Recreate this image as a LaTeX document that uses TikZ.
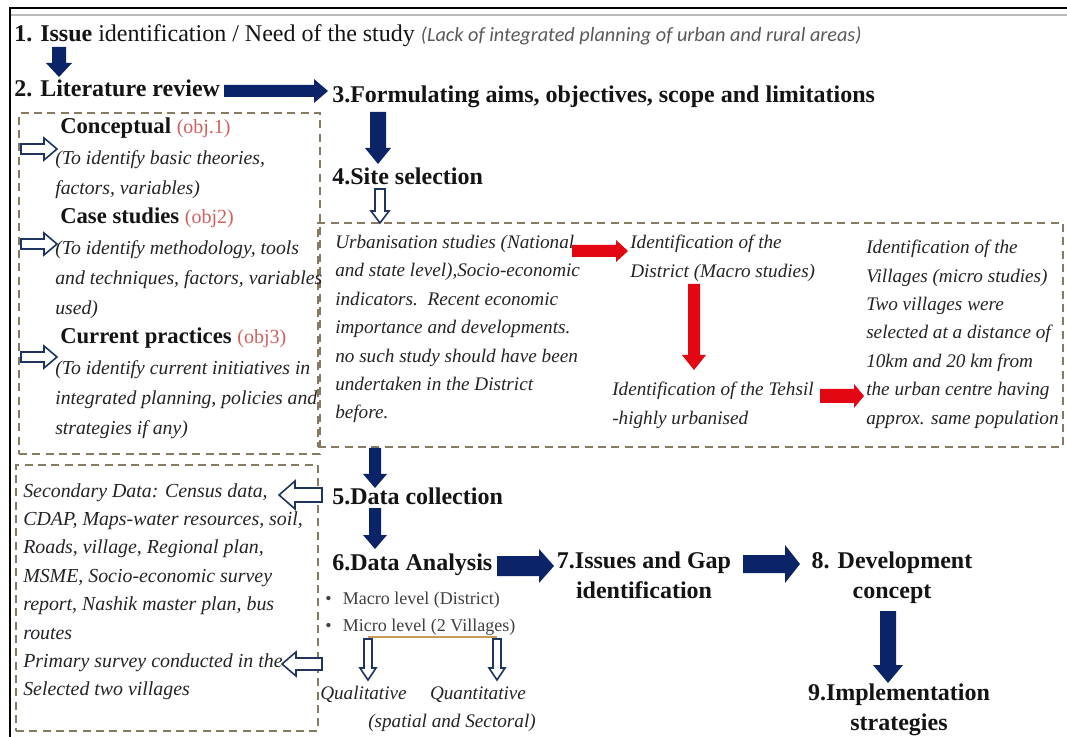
\documentclass[tikz,border=0pt]{standalone}
\usepackage{fontspec}
\setmainfont{Liberation Serif}
\newfontfamily\calibfont{Carlito}
\usetikzlibrary{calc,fit}
\definecolor{navy}{HTML}{0B2468}
\definecolor{hollowc}{HTML}{1F3560}
\definecolor{dashc}{HTML}{867A62}
\definecolor{redarr}{HTML}{E30613}
\definecolor{objred}{HTML}{D0605E}
\definecolor{bodyc}{HTML}{242424}
\definecolor{bulletc}{HTML}{404040}
\definecolor{tanline}{HTML}{C89A5A}
\definecolor{leadgray}{HTML}{5A5A5A}
\newcommand\flowR[6]{\path[#1] ($(#2)+(0,-#4)$) -- ($(#3)+(-#6,-#4)$) -- ($(#3)+(-#6,-#5)$) -- (#3) -- ($(#3)+(-#6,#5)$) -- ($(#3)+(-#6,#4)$) -- ($(#2)+(0,#4)$) -- cycle;}
\newcommand\flowL[6]{\path[#1] ($(#2)+(0,-#4)$) -- ($(#3)+(#6,-#4)$) -- ($(#3)+(#6,-#5)$) -- (#3) -- ($(#3)+(#6,#5)$) -- ($(#3)+(#6,#4)$) -- ($(#2)+(0,#4)$) -- cycle;}
\newcommand\flowD[6]{\path[#1] ($(#2)+(-#4,0)$) -- ($(#3)+(-#4,-#6)$) -- ($(#3)+(-#5,-#6)$) -- (#3) -- ($(#3)+(#5,-#6)$) -- ($(#3)+(#4,-#6)$) -- ($(#2)+(#4,0)$) -- cycle;}
\tikzset{
  navyfill/.style={fill=navy},
  redfill/.style={fill=redarr},
  hollow/.style={draw=hollowc, line width=1.2pt, fill=white, line join=miter},
  dbox/.style={draw=dashc, line width=1.4pt, dash pattern=on 6pt off 4pt, inner sep=0pt},
  head/.style={inner sep=0pt, font=\fontsize{18}{22.5}\selectfont\bfseries, text=black!92},
  body/.style={inner sep=0pt, font=\fontsize{14.4}{21.3}\selectfont\itshape, text=bodyc, align=left},
  litbody/.style={body, font=\fontsize{14.8}{22.5}\selectfont\itshape},
  databody/.style={body, font=\fontsize{14.9}{21.3}\selectfont\itshape},
  subhead/.style={inner sep=0pt, font=\fontsize{17}{21}\selectfont\bfseries, text=black!92},
}
\begin{document}
\begin{tikzpicture}[x=0.75pt,y=-0.75pt]
\useasboundingbox (0,0) rectangle (1067,737);
\fill[white] (0,0) rectangle (1067,737);
% frame
\draw[black, line width=1.5pt] (10,737) -- (10,8) -- (1067,8);
\draw[gray!55, line width=1.5pt] (11,15) -- (1067,15);

% boxes
\node[dbox, fit={(19,113) (320,454)}] (litbox) {};
\node[dbox, fit={(318,223) (1063,447)}] (sitebox) {};
\node[dbox, fit={(16,465) (318,731)}] (databox) {};

% headings
\node[inner sep=0pt, anchor=base west, font=\fontsize{18}{22}\selectfont, text=black!92] (issue) at (14,42)
  {{\bfseries 1. Issue} identification / Need of the study {\calibfont\itshape\fontsize{15.2}{18}\selectfont\color{leadgray}(Lack of integrated planning of urban and rural areas)}};
\node[head, anchor=base west] (lit) at (14,97) {2. Literature review};
\node[head, anchor=base west] (aims) at (332,103) {3.Formulating aims, objectives, scope and limitations};
\node[head, anchor=base west] (site) at (332,185) {4.Site selection};
\node[head, anchor=base west] (coll) at (332,504) {5.Data collection};
\node[head, anchor=base west] (anal) at (332,570) {6.Data Analysis};
\node[head, align=center, anchor=north] (gap) at (644,552) {7.Issues and Gap\\identification};
\node[head, align=center, anchor=north] (dev) at (892,552) {8. Development\\concept};
\node[head, align=center, anchor=north] (impl) at (899,684) {9.Implementation\\strategies};

% literature review content
\node[subhead, anchor=base west] (conc) at (60,134) {Conceptual {\mdseries\fontsize{15}{18}\selectfont\color{objred}(obj.1)}};
\node[litbody, anchor=north west] (concb) at (55,150.5) {(To identify basic theories,\\factors, variables)};
\node[subhead, anchor=base west] (case) at (60,224) {Case studies {\mdseries\fontsize{15}{18}\selectfont\color{objred}(obj2)}};
\node[litbody, anchor=north west] (caseb) at (55,240.5) {(To identify methodology, tools\\and techniques, factors, variables\\used)};
\node[subhead, anchor=base west] (curr) at (60,344) {Current practices {\mdseries\fontsize{15}{18}\selectfont\color{objred}(obj3)}};
\node[litbody, anchor=north west] (currb) at (55,360.5) {(To identify current initiatives in\\integrated planning, policies and\\strategies if any)};

% site selection content
\node[body, anchor=north west] (urb) at (335,235) {Urbanisation studies (National\\and state level),Socio-economic\\indicators.\ \ Recent economic\\importance and developments.\\no such study should have been\\undertaken in the District\\before.};
\node[body, anchor=north west] (dist) at (630,235) {Identification of the\\District (Macro studies)};
\node[body, anchor=north west] (teh) at (612,382) {Identification of the Tehsil\\-highly urbanised};
\node[body, anchor=north west] (vill) at (866,240) {Identification of the\\Villages (micro studies)\\Two villages were\\selected at a distance of\\10km and 20 km from\\the urban centre having\\approx. same population};

% data collection content
\node[databody, anchor=north west] (sec) at (23,483) {Secondary Data: Census data,\\CDAP, Maps-water resources, soil,\\Roads, village, Regional plan,\\MSME, Socio-economic survey\\report, Nashik master plan, bus\\routes\\Primary survey conducted in the\\Selected two villages};

% analysis content
\node[inner sep=0pt, anchor=north west, align=left, font=\fontsize{13.5}{20.25}\selectfont, text=bulletc] (bul) at (325,592)
  {\textbullet\hspace{8.5pt}Macro level (District)\\\textbullet\hspace{8.5pt}Micro level (2 Villages)};
\node[body, anchor=base west] (qual) at (320,699) {Qualitative};
\node[body, anchor=base] (quant) at (478,699) {Quantitative};
\node[body, anchor=base] (spat) at (452,727) {(spatial and Sectoral)};

% connector coordinates
\coordinate (a12s) at (59,47);   \coordinate (a12e) at (59,77);
\coordinate (a23s) at (224,91);  \coordinate (a23e) at (328,91);
\coordinate (a34s) at (378,112); \coordinate (a34e) at (378,164);
\coordinate (a4bs) at (380,189); \coordinate (a4be) at (380,223);
\coordinate (ab5s) at (375,448); \coordinate (ab5e) at (375,488);
\coordinate (a56s) at (375,508); \coordinate (a56e) at (375,549);
\coordinate (a67s) at (497,566); \coordinate (a67e) at (554,566);
\coordinate (a78s) at (743,564); \coordinate (a78e) at (800,564);
\coordinate (a89s) at (888,611); \coordinate (a89e) at (888,683);
\coordinate (l1s) at (21,149);   \coordinate (l1e) at (57,149);
\coordinate (l2s) at (21,244);   \coordinate (l2e) at (57,244);
\coordinate (l3s) at (21,357);   \coordinate (l3e) at (57,357);
\coordinate (d1s) at (322,495);  \coordinate (d1e) at (279,495);
\coordinate (d2s) at (322,664);  \coordinate (d2e) at (282,664);
\coordinate (r1s) at (572,251);  \coordinate (r1e) at (628,251);
\coordinate (r2s) at (694,284);  \coordinate (r2e) at (694,370);
\coordinate (r3s) at (820,396);  \coordinate (r3e) at (864,396);
\coordinate (qa) at (368,637);   \coordinate (qb) at (497,637);
\coordinate (qas) at (368,639);  \coordinate (qae) at (368,680);
\coordinate (qbs) at (497,639);  \coordinate (qbe) at (497,680);

% navy arrows
\flowD{navyfill}{a12s}{a12e}{7}{13}{14}
\flowR{navyfill}{a23s}{a23e}{6}{12}{14}
\flowD{navyfill}{a34s}{a34e}{8}{13}{16}
\flowD{navyfill}{ab5s}{ab5e}{6}{12}{14}
\flowD{navyfill}{a56s}{a56e}{6}{12}{14}
\flowR{navyfill}{a67s}{a67e}{10}{17}{15}
\flowR{navyfill}{a78s}{a78e}{9}{19}{15}
\flowD{navyfill}{a89s}{a89e}{8}{15}{18}
% hollow arrows
\flowD{hollow}{a4bs}{a4be}{5}{9}{12}
\flowR{hollow}{l1s}{l1e}{5}{11}{13}
\flowR{hollow}{l2s}{l2e}{5}{11}{13}
\flowR{hollow}{l3s}{l3e}{5}{11}{13}
\flowL{hollow}{d1s}{d1e}{7}{14}{16}
\flowL{hollow}{d2s}{d2e}{6}{12}{14}
\draw[tanline, line width=1pt] (qa) -- (qb);
\flowD{hollow}{qas}{qae}{4}{8}{12}
\flowD{hollow}{qbs}{qbe}{4}{8}{12}
% red arrows
\flowR{redfill}{r1s}{r1e}{6}{11}{12}
\flowD{redfill}{r2s}{r2e}{6}{12}{15}
\flowR{redfill}{r3s}{r3e}{7}{12}{10}
\end{tikzpicture}
\end{document}
